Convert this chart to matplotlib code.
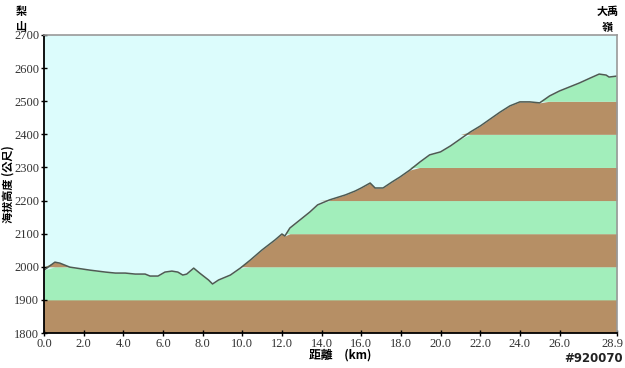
import numpy as np
import matplotlib
matplotlib.use("Agg")
import matplotlib.pyplot as plt
import matplotlib.transforms as mtransforms

# distance (km) and elevation (m)
dist = [0.0, 0.55, 0.8, 1.3, 2.3, 3.1, 3.6, 4.1, 4.6, 5.1, 5.35, 5.75, 6.1, 6.45,
        6.75, 7.0, 7.2, 7.55, 7.85, 8.3, 8.5, 8.8, 9.4, 9.9, 10.4, 11.0, 11.65,
        12.0, 12.15, 12.4, 12.9, 13.4, 13.8, 14.4, 15.2, 15.7, 16.0, 16.45, 16.7,
        17.1, 17.55, 17.95, 18.45, 18.95, 19.45, 20.0, 20.5, 21.0, 21.5, 22.0,
        22.5, 23.0, 23.5, 24.0, 24.5, 25.0, 25.5, 26.0, 26.5, 27.0, 27.55, 28.0,
        28.35, 28.5, 28.9]
elev = [1990, 2014, 2011, 1999, 1990, 1984, 1981, 1981, 1978, 1978, 1972, 1972,
        1984, 1987, 1984, 1975, 1978, 1996, 1981, 1960, 1948, 1960, 1975, 1996,
        2020, 2051, 2081, 2099, 2093, 2117, 2141, 2165, 2187, 2202, 2217, 2229,
        2238, 2253, 2238, 2238, 2256, 2271, 2292, 2316, 2338, 2347, 2365, 2386,
        2407, 2425, 2446, 2467, 2486, 2498, 2498, 2495, 2516, 2531, 2543, 2555,
        2570, 2582, 2579, 2573, 2576]

xticks = [0, 2, 4, 6, 8, 10, 12, 14, 16, 18, 20, 22, 24, 26, 28.9]
xticklabels = ["0.0", "2.0", "4.0", "6.0", "8.0", "10.0", "12.0", "14.0", "16.0",
               "18.0", "20.0", "22.0", "24.0", "26.0", "28.9"]
yticks = list(range(1800, 2701, 100))

start_name = "梨\n山"
end_name = "大禹\n嶺"

brown = "#b68f65"
green = "#a2eebb"
sky = "#dcfcfc"

cjk = ["Noto Sans CJK TC", "DejaVu Sans"]

fig = plt.figure(figsize=(6.25, 3.68), dpi=100)
ax = fig.add_axes([0.0704, 0.0951, 0.9168, 0.8098])
ax.set_facecolor(sky)

d = np.array(dist)
e = np.array(elev)
for i, lo in enumerate(range(1800, 2700, 100)):
    hi = lo + 100
    top = np.clip(e, lo, hi)
    ax.fill_between(d, lo, top, color=brown if i % 2 == 0 else green, lw=0)
ax.plot(d, e, color="#4f5a52", lw=1.1)

ax.set_xlim(0, 28.9)
ax.set_ylim(1800, 2700)
ax.set_xticks(xticks)
ax.set_xticklabels(xticklabels, family="Liberation Serif", fontsize=9, color="#333333")
ax.set_yticks(yticks)
ax.set_yticklabels([str(v) for v in yticks], family="Liberation Serif", fontsize=9, color="#333333")
ax.tick_params(direction="inout", length=5, width=1, pad=1)

# nudge last x label so it stays inside the figure
last = ax.get_xticklabels()[-1]
last.set_transform(last.get_transform() + mtransforms.ScaledTranslation(-3 / 72, 0, fig.dpi_scale_trans))

for s in ["left", "bottom"]:
    ax.spines[s].set_color("black")
    ax.spines[s].set_linewidth(1.3)
for s in ["top", "right"]:
    ax.spines[s].set_color("#999999")
    ax.spines[s].set_linewidth(1.2)

fig.text(8 / 625, 0.5, "海拔高度 (公尺)", family=cjk, fontsize=8, fontweight="bold",
         rotation=90, ha="center", va="center")
fig.text(0.545, 1 - 355 / 368, "距離\u3000(km)", family=cjk, fontsize=8.5, fontweight="bold",
         ha="center", va="center")

fig.text(0.034, 1 - 19 / 368, start_name, family=cjk, fontsize=8, fontweight="bold",
         ha="center", va="center", linespacing=1.25)
fig.text(0.972, 1 - 19 / 368, end_name, family=cjk, fontsize=8, fontweight="bold",
         ha="center", va="center", linespacing=1.25)
fig.text(0.997, 1 - 358 / 368, "#920070", family="DejaVu Sans", fontsize=8.5, fontweight="bold",
         ha="right", va="center", color="#222222")

fig.savefig("out.png", dpi=100)
